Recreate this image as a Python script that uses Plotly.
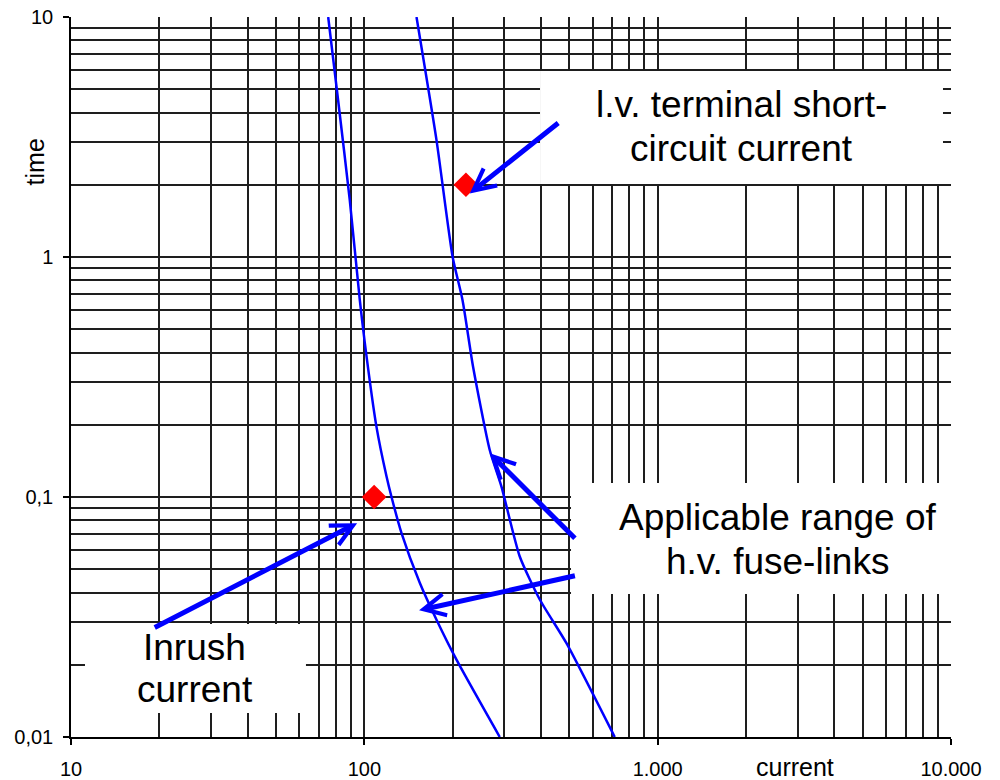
import numpy as np
import plotly.graph_objects as go

# ---- data ----
left_current = [75.3, 81.4, 89.2, 96.5, 100.4, 110.0, 119.0, 123.8, 133.9, 154.5, 176.2, 206.1, 289.5]
left_time = [10, 4.50, 1.725, 0.662, 0.438, 0.196, 0.122, 0.1, 0.0707, 0.0439, 0.0308, 0.0210, 0.01]

right_current = [150.6, 176.2, 200.0, 216.1, 234.8, 267.6, 293.4, 338.7, 396.3, 488.7, 713.9]
right_time = [10, 3.07, 1.0, 0.662, 0.349, 0.157, 0.1105, 0.0565, 0.0374, 0.0246, 0.01]

point_current = [108, 222]
point_time = [0.1, 2.0]

x_tickvals = [10, 100, 1000, 10000]
x_ticktext = ["10", "100", "1.000", "10.000"]
y_tickvals = [0.01, 0.1, 1, 10]
y_ticktext = ["0,01", "0,1", "1", "10"]

# arrows: (tip current, tip time, tail current, tail time)
arrow_tip_current = [228.8, 94.5, 267.6, 153.7]
arrow_tip_time = [1.84, 0.0778, 0.152, 0.0337]
arrow_tail_current = [463.5, 19.07, 528.4, 528.4]
arrow_tail_time = [3.66, 0.0284, 0.0663, 0.0471]

# label lines, (x, y baseline) in domain fractions
label_lines = ["l.v. terminal short-", "circuit current",
               "Applicable range of", "h.v. fuse-links",
               "Inrush", "current"]
label_x = [0.7614, 0.7614, 0.8023, 0.8023, 0.1409, 0.1409]
label_base_px = [118.3, 162.0, 530.7, 575.0, 661.0, 703.0]

# white boxes behind labels (domain coords): x0, x1, y0, y1
boxes = [(0.5330, 0.9909, 0.7681, 0.9250),
         (0.5682, 1.0030, 0.1986, 0.3528),
         (0.0159, 0.2670, 0.0333, 0.1569)]

FONT = "Liberation Sans, Arial, sans-serif"
BLUE = "#0000ff"
GRID = "#1e1e1e"
PLOT_TOP, PLOT_H = 17, 720

fig = go.Figure()
fig.add_trace(go.Scatter(x=left_current, y=left_time, mode="lines",
                         line=dict(color=BLUE, width=2.5, shape="spline", smoothing=0.6),
                         hoverinfo="skip"))
fig.add_trace(go.Scatter(x=right_current, y=right_time, mode="lines",
                         line=dict(color=BLUE, width=2.5, shape="spline", smoothing=0.6),
                         hoverinfo="skip"))
fig.add_trace(go.Scatter(x=point_current, y=point_time, mode="markers",
                         marker=dict(symbol="diamond", size=19, color="#ff0000",
                                     line=dict(width=0)),
                         hoverinfo="skip"))

minor_x = [m * 10 ** d for d in range(1, 4) for m in range(2, 10)]
minor_y = [m * 10 ** d for d in range(-2, 1) for m in range(2, 10)]

fig.update_xaxes(type="log", range=[1, 4], automargin=False,
                 tickvals=x_tickvals, ticktext=x_ticktext,
                 ticks="outside", ticklen=6, tickwidth=1.5, tickcolor="black",
                 showline=True, linecolor="black", linewidth=1.5,
                 showgrid=True, gridcolor=GRID, gridwidth=1.5,
                 minor=dict(tickvals=minor_x, showgrid=True, gridcolor=GRID, gridwidth=1.5, ticks=""),
                 tickfont=dict(family=FONT, size=20, color="black"),
                 ticklabelstandoff=7, zeroline=False)
fig.update_yaxes(type="log", range=[-2, 1], automargin=False,
                 tickvals=y_tickvals, ticktext=y_ticktext,
                 ticks="outside", ticklen=6, tickwidth=1.5, tickcolor="black",
                 showline=True, linecolor="black", linewidth=1.5,
                 showgrid=True, gridcolor=GRID, gridwidth=1.5,
                 minor=dict(tickvals=minor_y, showgrid=True, gridcolor=GRID, gridwidth=1.5, ticks=""),
                 tickfont=dict(family=FONT, size=20, color="black"),
                 ticklabelstandoff=6, zeroline=False)

shapes = []
for (x0, x1, y0, y1) in boxes:
    shapes.append(dict(type="rect", xref="x domain", yref="y domain", x0=x0, x1=x1, y0=y0, y1=y1,
                       fillcolor="white", line=dict(width=0), layer="above"))

annotations = []
for txt, lx, bp in zip(label_lines, label_x, label_base_px):
    annotations.append(dict(text=txt, x=lx, y=(PLOT_TOP + PLOT_H - bp) / PLOT_H,
                            xref="x domain", yref="y domain",
                            xanchor="center", yanchor="bottom", yshift=-9, showarrow=False,
                            font=dict(family=FONT, size=37, color="black")))
for tx, ty, sx, sy in zip(arrow_tip_current, arrow_tip_time, arrow_tail_current, arrow_tail_time):
    annotations.append(dict(text="", x=np.log10(tx), y=np.log10(ty), xref="x", yref="y",
                            ax=np.log10(sx), ay=np.log10(sy), axref="x", ayref="y",
                            showarrow=True, arrowhead=5, arrowsize=0.85, arrowwidth=5,
                            arrowcolor=BLUE, standoff=0))
annotations.append(dict(text="time", x=-0.0409, y=0.798, xref="paper", yref="paper",
                        textangle=-90, showarrow=False, xanchor="center", yanchor="middle",
                        font=dict(family=FONT, size=25, color="black")))
annotations.append(dict(text="current", x=0.8227, y=-0.0417, xref="paper", yref="paper",
                        showarrow=False, xanchor="center", yanchor="middle",
                        font=dict(family=FONT, size=25, color="black")))

fig.update_layout(width=1000, height=780,
                  margin=dict(l=71, r=49, t=17, b=43, autoexpand=False),
                  paper_bgcolor="white", plot_bgcolor="white",
                  showlegend=False, shapes=shapes, annotations=annotations)

fig.write_html("out.html", config={"displayModeBar": False},
               post_script="document.body.style.margin='0';document.body.style.padding='0';")
